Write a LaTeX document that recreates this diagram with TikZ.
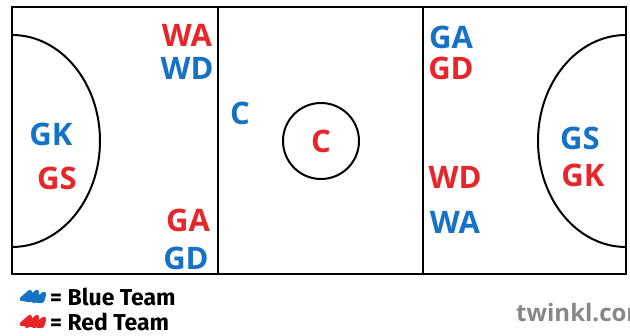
\documentclass[tikz,border=0pt]{standalone}
\usepackage{fontspec}
\setmainfont{Open Sans}
\newfontfamily\legendfont{Fira Sans}
\definecolor{teamred}{RGB}{232,38,42}
\definecolor{teamblue}{RGB}{22,114,198}
\definecolor{logogray}{RGB}{135,135,135}
\begin{document}
\begin{tikzpicture}[x=1pt,y=1pt,
  court/.style={line width=2pt,black},
  playerlabel/.style={font=\fontsize{31}{31}\selectfont\bfseries,inner sep=0pt},
  redpos/.style={playerlabel,text=teamred},
  bluepos/.style={playerlabel,text=teamblue},
  legendtext/.style={font=\legendfont\fontsize{23}{23}\selectfont\bfseries,anchor=west,inner sep=0pt},
  scribble/.style={line width=4.5pt,line cap=round,line join=round}]
\useasboundingbox (0,0) rectangle (630,336);
\clip (0,0) rectangle (630,336);
% court outline and third lines
\draw[court] (12,62) rectangle (626,329);
\draw[court] (218,62) -- (218,329);
\draw[court] (423,62) -- (423,329);
% goal circles
\draw[court] (12,301) arc[start angle=90,end angle=-90,x radius=88pt,y radius=106pt];
\draw[court] (626,301) arc[start angle=90,end angle=270,x radius=88pt,y radius=106pt];
% centre circle
\node[draw,circle,line width=2pt,minimum size=76pt,inner sep=0pt] (cc) at (321,195) {};
% positions
\node[redpos]  (wa1) at (187,301) {WA};
\node[bluepos] (wd1) at (187,268) {WD};
\node[bluepos] (c1)  at (240,223) {C};
\node[redpos]  (c2)  at (cc) {C};
\node[bluepos] (ga1) at (451,299) {GA};
\node[redpos]  (gd1) at (451,268) {GD};
\node[bluepos] (gk1) at (51,202) {GK};
\node[redpos]  (gs1) at (57,158) {GS};
\node[redpos]  (ga2) at (188,116) {GA};
\node[bluepos] (gd2) at (186,78) {GD};
\node[redpos]  (wd2) at (455,159) {WD};
\node[bluepos] (wa2) at (455,114) {WA};
\node[bluepos] (gs2) at (580,198) {GS};
\node[redpos]  (gk2) at (583,161) {GK};
% legend swatches
\draw[scribble,teamblue] (22,37) -- (30,44) -- (27,36) -- (37,44) -- (34,35) -- (44,42) -- (42,35) -- (24,37) -- (40,39);
\draw[scribble,teamred] (22,12) -- (30,19) -- (27,10) -- (37,19) -- (34,10) -- (44,17) -- (42,10) -- (24,12) -- (40,14);
\node[legendtext] (lb) at (50,39) {= Blue Team};
\node[legendtext] (lr) at (50,14) {= Red Team};
% logo, running off the right edge
\node[anchor=west,inner sep=0pt,text=logogray,font=\fontsize{24}{24}\selectfont\bfseries] (logo) at (516,23) {twinkl.com};
\end{tikzpicture}
\end{document}
